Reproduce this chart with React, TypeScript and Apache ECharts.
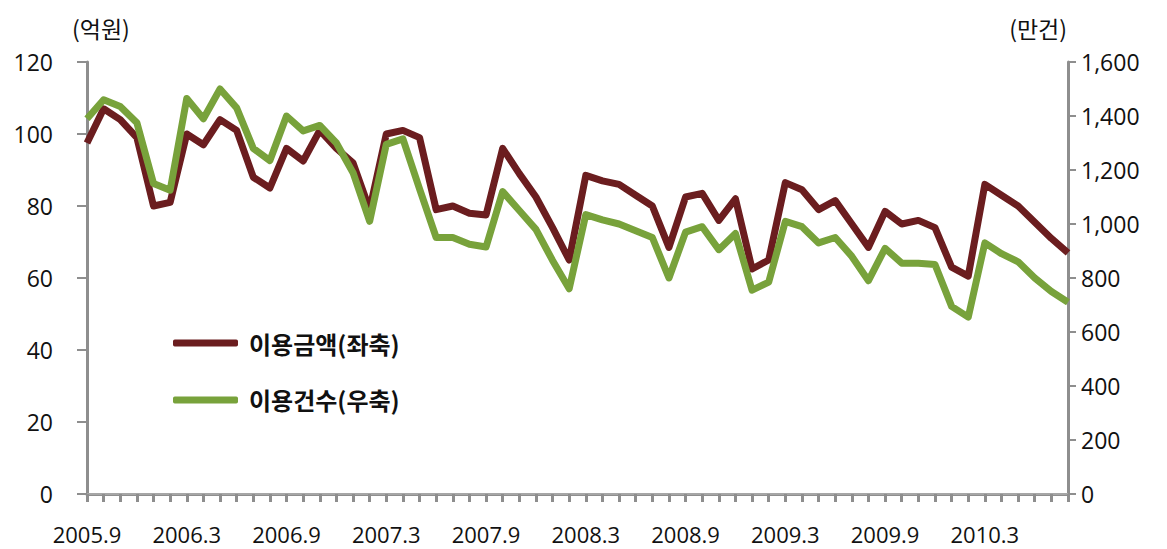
import React, { useEffect, useRef } from "react";
import * as echarts from "echarts";

const months = [
  "2005.9", "2005.10", "2005.11", "2005.12",
  "2006.1", "2006.2", "2006.3", "2006.4", "2006.5", "2006.6", "2006.7", "2006.8", "2006.9", "2006.10", "2006.11", "2006.12",
  "2007.1", "2007.2", "2007.3", "2007.4", "2007.5", "2007.6", "2007.7", "2007.8", "2007.9", "2007.10", "2007.11", "2007.12",
  "2008.1", "2008.2", "2008.3", "2008.4", "2008.5", "2008.6", "2008.7", "2008.8", "2008.9", "2008.10", "2008.11", "2008.12",
  "2009.1", "2009.2", "2009.3", "2009.4", "2009.5", "2009.6", "2009.7", "2009.8", "2009.9", "2009.10", "2009.11", "2009.12",
  "2010.1", "2010.2", "2010.3", "2010.4", "2010.5", "2010.6", "2010.7", "2010.8",
];

// 이용금액 (억원, left axis)
const amount = [
  97.5, 107, 104, 99, 80, 81, 100, 97, 104, 101, 88, 85, 96, 92.5, 101, 96,
  92, 79, 100, 101, 99, 79, 80, 78, 77.5, 96, 89, 82.5, 74, 65, 88.5, 87,
  86, 83, 80, 68.5, 82.5, 83.5, 76, 82, 62.5, 65, 86.5, 84.5, 79, 81.5, 75,
  68.5, 78.5, 75, 76, 74, 63, 60.5, 86, 83, 80, 75.5, 71, 67,
];

// 이용건수 (만건, right axis)
const count = [
  1390, 1460, 1435, 1375, 1150, 1125, 1465, 1390, 1500, 1430, 1280, 1235, 1400, 1345, 1365, 1300,
  1190, 1010, 1295, 1315, 1130, 950, 950, 925, 915, 1120, 1050, 980, 865, 760, 1035, 1015,
  1000, 975, 950, 800, 970, 990, 905, 965, 755, 785, 1010, 990, 930, 950, 880,
  790, 910, 855, 855, 850, 695, 655, 930, 890, 860, 800, 750, 710,
];

const seriesNames = ["이용금액(좌축)", "이용건수(우축)"];
const axisUnits = ["(억원)", "(만건)"];

const MAROON = "#6B1D1F";
const GREEN = "#78A23B";
const AXIS = "#8E8E8E";
const FONT = "'Open Sans', 'Noto Sans CJK KR', sans-serif";
const KFONT = "'Noto Sans CJK KR', sans-serif";

export default function App() {
  const ref = useRef<HTMLDivElement>(null);

  useEffect(() => {
    if (!ref.current) return;
    const chart = echarts.init(ref.current, null, { renderer: "svg" });
    chart.setOption({
      animation: false,
      backgroundColor: "#ffffff",
      textStyle: { fontFamily: FONT },
      grid: { left: 87, right: 99, top: 62, bottom: 55, containLabel: false },
      legend: {
        orient: "vertical",
        left: 173,
        top: 331,
        padding: 0,
        itemGap: 33,
        itemWidth: 65,
        itemHeight: 7,
        icon: "roundRect",
        data: seriesNames,
        textStyle: {
          fontSize: 24,
          fontWeight: "bold",
          color: "#111",
          fontFamily: KFONT,
          padding: [0, 0, 0, 6],
        },
      },
      xAxis: [
        {
          type: "category",
          data: months,
          boundaryGap: false,
          axisLine: { show: true, lineStyle: { color: AXIS, width: 3 } },
          axisTick: { show: true, interval: 0, length: 8, lineStyle: { color: AXIS, width: 3 } },
          axisLabel: {
            interval: 5,
            margin: 29,
            fontSize: 22,
            lineHeight: 22,
            color: "#111",
            fontFamily: FONT,
          },
          splitLine: { show: false },
        },
        {
          type: "category",
          data: months,
          boundaryGap: false,
          position: "top",
          axisLine: { show: true, lineStyle: { color: "#A6A6A6", width: 2 } },
          axisTick: { show: false },
          axisLabel: { show: false },
        },
      ],
      yAxis: [
        {
          type: "value",
          min: 0,
          max: 120,
          interval: 20,
          position: "left",
          name: axisUnits[0],
          nameLocation: "end",
          nameGap: 23,
          nameTextStyle: {
            fontSize: 23,
            color: "#111",
            align: "left",
            padding: [0, 0, 0, -15],
            fontFamily: KFONT,
          },
          axisLine: { show: true, lineStyle: { color: AXIS, width: 3 } },
          axisTick: { show: true, length: 10, lineStyle: { color: AXIS, width: 2 } },
          axisLabel: { fontSize: 23, color: "#111", margin: 34, fontFamily: FONT },
          splitLine: { show: false },
        },
        {
          type: "value",
          min: 0,
          max: 1600,
          interval: 200,
          position: "right",
          name: axisUnits[1],
          nameLocation: "end",
          nameGap: 23,
          nameTextStyle: {
            fontSize: 23,
            color: "#111",
            align: "right",
            padding: [0, 1, 0, 0],
            fontFamily: KFONT,
          },
          axisLine: { show: true, lineStyle: { color: AXIS, width: 3 } },
          axisTick: { show: true, length: 8, lineStyle: { color: AXIS, width: 2 } },
          axisLabel: {
            fontSize: 23,
            color: "#111",
            margin: 13,
            fontFamily: FONT,
            formatter: (v: number) => v.toLocaleString("en-US"),
          },
          splitLine: { show: false },
        },
      ],
      series: [
        {
          name: seriesNames[0],
          type: "line",
          xAxisIndex: 0,
          yAxisIndex: 0,
          data: amount,
          showSymbol: false,
          symbol: "none",
          color: MAROON,
          lineStyle: { color: MAROON, width: 7, join: "round" },
        },
        {
          name: seriesNames[1],
          type: "line",
          xAxisIndex: 0,
          yAxisIndex: 1,
          data: count,
          showSymbol: false,
          symbol: "none",
          color: GREEN,
          lineStyle: { color: GREEN, width: 7, join: "round" },
        },
      ],
    });
    return () => chart.dispose();
  }, []);

  return (
    <div
      ref={ref}
      style={{ position: "absolute", left: 0, top: 0, width: 1167, height: 549, background: "#fff" }}
    />
  );
}
